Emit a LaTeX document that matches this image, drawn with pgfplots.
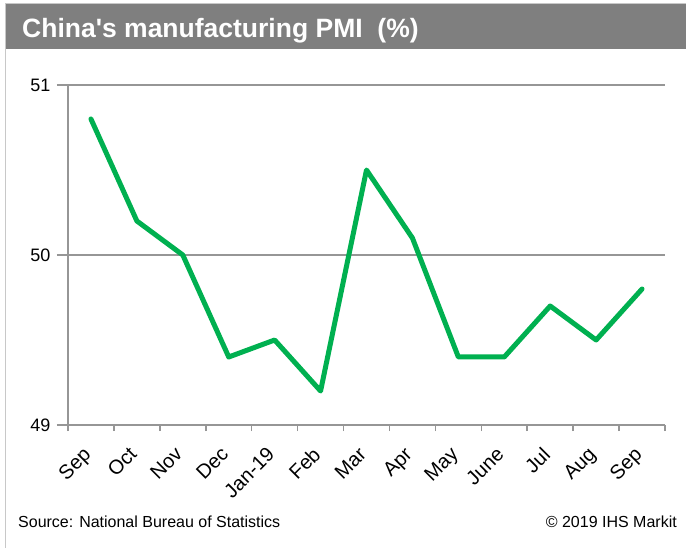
\documentclass[border=0pt]{standalone}
\usepackage{fontspec}
\setmainfont{Liberation Sans}
\newfontfamily\plainfont{Liberation Sans}
\usepackage{pgfplots}
\pgfplotsset{compat=1.18}
\definecolor{barGrey}{RGB}{127,127,127}
\definecolor{gridGrey}{RGB}{150,150,150}
\definecolor{frameGrey}{RGB}{200,200,200}
\definecolor{pmiGreen}{RGB}{0,176,80}
\begin{document}
\begin{tikzpicture}
\useasboundingbox (0,0) rectangle (686bp,548bp);
% frame lines
\draw[frameGrey, line width=1bp] (5.5bp,0) -- (5.5bp,544.5bp) -- (686bp,544.5bp);
\fill[barGrey] (6bp,499bp) rectangle (686bp,544bp);
\node[anchor=base west, inner sep=0pt, text=white, font=\plainfont\fontsize{26.5bp}{30bp}\selectfont\bfseries] at (22bp,510.5bp) {China's manufacturing PMI\ \ (\%)};
\node[anchor=base west, inner sep=0pt, font=\fontsize{16bp}{19bp}\selectfont] at (18bp,21bp) {Source: National Bureau of Statistics};
\node[anchor=base east, inner sep=0pt, font=\fontsize{16bp}{19bp}\selectfont] at (677bp,21bp) {\textcopyright\ 2019 IHS Markit};
\begin{axis}[
  at={(68bp,123bp)}, anchor=south west,
  scale only axis, width=597bp, height=340bp,
  xmin=-0.5, xmax=12.5, ymin=49, ymax=51,
  axis x line*=bottom, axis y line*=left,
  axis line style={gridGrey, line width=1.6bp, -},
  xtick={0,...,12},
  xticklabels={Sep,Oct,Nov,Dec,Jan-19,Feb,Mar,Apr,May,June,Jul,Aug,Sep},
  minor xtick={-0.5,0.5,...,12.5},
  major x tick style={draw=none},
  minor x tick style={gridGrey, line width=1.6bp},
  minor tick length=6bp,
  ytick={49,50,51},
  major tick length=11bp,
  major y tick style={gridGrey, line width=1.6bp},
  tick align=outside,
  ymajorgrids,
  major grid style={gridGrey, line width=1.6bp},
  x tick label style={xshift=-9bp, yshift=-5bp, rotate=45, anchor=north east, font=\fontsize{20bp}{23bp}\selectfont},
  y tick label style={font=\fontsize{18bp}{21bp}\selectfont, xshift=-3bp},
  /pgf/number format/assume math mode=true,
  clip=false,
]
\addplot[pmiGreen, line width=5bp, line join=round, line cap=round] coordinates {
(0,50.8) (1,50.2) (2,50.0) (3,49.4) (4,49.5) (5,49.2) (6,50.5) (7,50.1) (8,49.4) (9,49.4) (10,49.7) (11,49.5) (12,49.8)
};
\end{axis}
\end{tikzpicture}
\end{document}
